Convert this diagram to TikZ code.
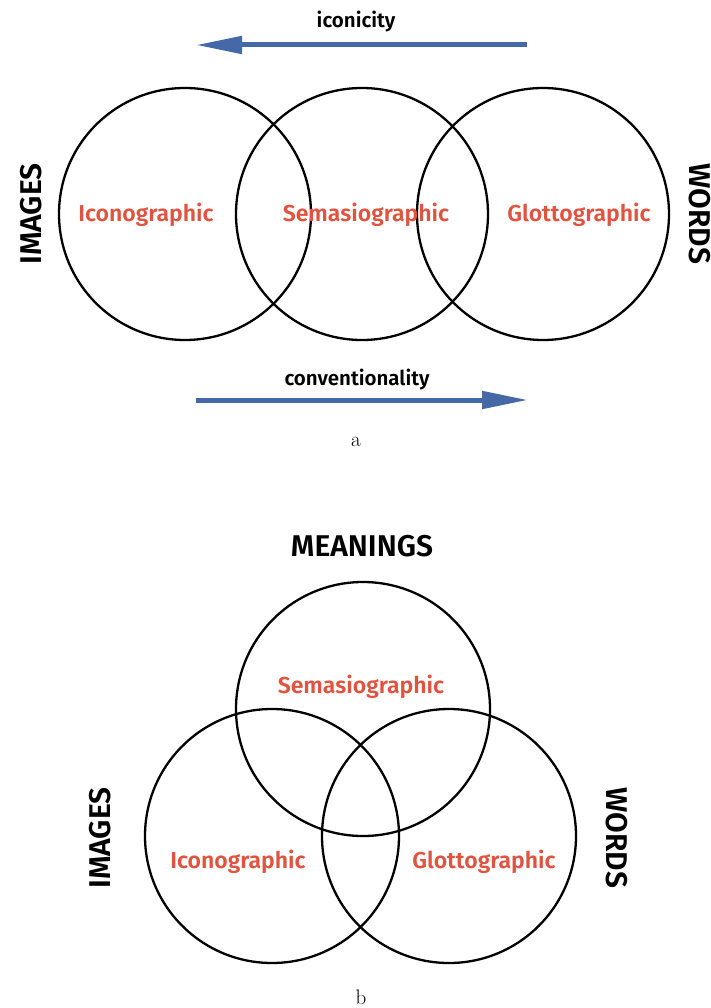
\documentclass[tikz,border=0pt]{standalone}
\usepackage{fontspec}
\newfontfamily\labelfont{Fira Sans}[UprightFont={* SemiBold},BoldFont={* Bold}]
\usetikzlibrary{arrows.meta}
\definecolor{lblred}{HTML}{E0533F}
\definecolor{arrblue}{HTML}{4469A6}
\begin{document}
\begin{tikzpicture}[x=1pt,y=-1pt,
  circ/.style={draw=black,line width=2.3pt},
  lbl/.style={text=lblred,font=\labelfont\fontsize{23}{25}\selectfont},
  side/.style={font=\labelfont\fontsize{30}{32}\selectfont},
  axislbl/.style={font=\labelfont\fontsize{20.5}{22}\selectfont},
  bigarrow/.style={draw=arrblue,line width=5pt,-{Triangle[length=46pt,width=17pt]}},
  captxt/.style={font=\fontsize{21}{23}\selectfont}]
\useasboundingbox (0,0) rectangle (711,1008);
% panel a
\node[circ,circle,minimum size=252pt,inner sep=0pt] (c1) at (185,214) {};
\node[circ,circle,minimum size=252pt,inner sep=0pt] (c2) at (362,214) {};
\node[circ,circle,minimum size=252pt,inner sep=0pt] (c3) at (543,214) {};
\node[lbl] (l1) at (146,215) {Iconographic};
\node[lbl] (l2) at (366,215) {Semasiographic};
\node[lbl] (l3) at (579,215) {Glottographic};
\node[side,rotate=90] (imgA) at (31,214) {IMAGES};
\node[side,rotate=-90] (wrdA) at (700,214) {WORDS};
\coordinate (ia) at (527,45);
\coordinate (ib) at (196,45);
\draw[bigarrow] (ia) -- (ib);
\node[axislbl] (ic) at (356,22) {iconicity};
\coordinate (ca) at (196,400);
\coordinate (cb) at (528,400);
\draw[bigarrow] (ca) -- (cb);
\node[axislbl] (cv) at (357,380) {conventionality};
\node[captxt] (capa) at (356,442) {a};
% panel b
\node[circ,circle,minimum size=254pt,inner sep=0pt] (d1) at (363,709) {};
\node[circ,circle,minimum size=254pt,inner sep=0pt] (d2) at (272,836) {};
\node[circ,circle,minimum size=254pt,inner sep=0pt] (d3) at (449,836) {};
\node[lbl] (m1) at (361,687) {Semasiographic};
\node[lbl] (m2) at (238,862) {Iconographic};
\node[lbl] (m3) at (484,862) {Glottographic};
\node[side] (mean) at (362,546) {MEANINGS};
\node[side,rotate=90] (imgB) at (100,838) {IMAGES};
\node[side,rotate=-90] (wrdB) at (617,838) {WORDS};
\node[captxt] (capb) at (361,997) {b};
\end{tikzpicture}
\end{document}
